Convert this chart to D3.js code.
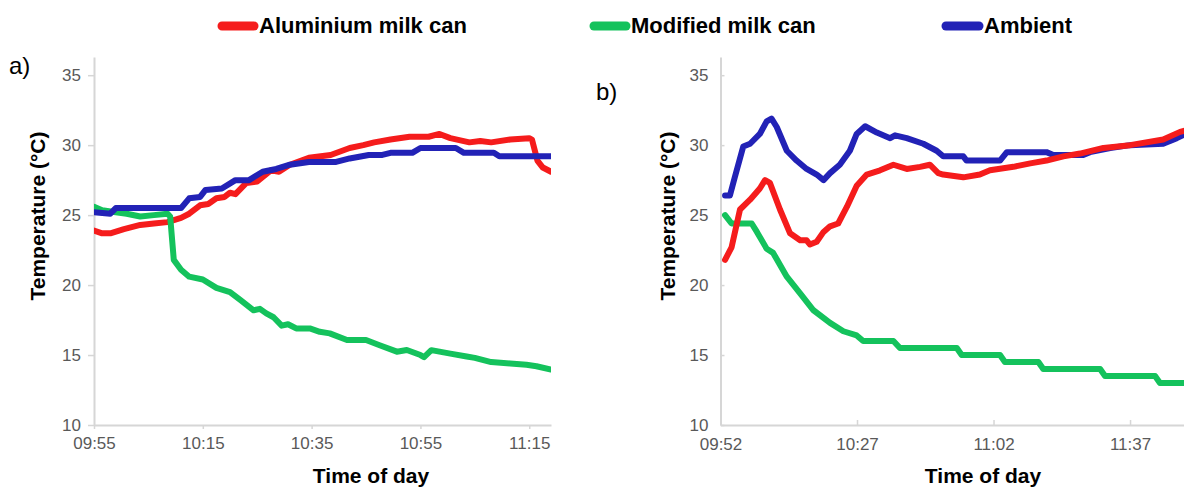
<!DOCTYPE html>
<html>
<head>
<meta charset="utf-8">
<script src="https://cdn.jsdelivr.net/npm/d3@7"></script>
<style>
  html, body { margin: 0; padding: 0; background: #fff; }
  svg { display: block; }
  text { font-family: Arial, "Liberation Sans", sans-serif; }
</style>
</head>
<body>
<svg id="chart" width="1184" height="489"></svg>
<script>
// ---- Series names and colours ----
const seriesNames = ["Aluminium milk can", "Modified milk can", "Ambient"];
const seriesColors = ["#f51c1c", "#14c25c", "#2222b6"];

// ---- Axis ticks ----
const yTicks = [10, 15, 20, 25, 30, 35];
const xTicksA = ["09:55", "10:15", "10:35", "10:55", "11:15"];
const xTicksB = ["09:52", "10:27", "11:02", "11:37"];

// ---- Panel a) readings: [time, °C] ----
const aluminiumA = [
  ["09:55:00", 23.9], ["09:56:30", 23.7], ["09:58:00", 23.7], ["10:00:30", 24.0],
  ["10:03:30", 24.3], ["10:06:00", 24.4], ["10:08:30", 24.5], ["10:11:00", 24.8],
  ["10:12:30", 25.1], ["10:14:30", 25.7], ["10:16:00", 25.8], ["10:17:30", 26.2],
  ["10:19:00", 26.3], ["10:20:00", 26.6], ["10:21:00", 26.5], ["10:23:00", 27.3],
  ["10:25:00", 27.4], ["10:27:30", 28.2], ["10:29:00", 28.1], ["10:31:00", 28.6],
  ["10:34:30", 29.1], ["10:38:30", 29.3], ["10:42:00", 29.8], ["10:44:30", 30.0],
  ["10:46:30", 30.2], ["10:49:30", 30.4], ["10:53:00", 30.6], ["10:56:30", 30.6],
  ["10:58:30", 30.8], ["11:00:30", 30.5], ["11:04:00", 30.2], ["11:06:00", 30.3],
  ["11:08:00", 30.2], ["11:11:30", 30.4], ["11:15:00", 30.5], ["11:15:30", 30.4],
  ["11:16:30", 28.9], ["11:17:30", 28.4], ["11:19:00", 28.1]
];
const modifiedA = [
  ["09:55:00", 25.6], ["09:56:30", 25.35], ["09:59:00", 25.2], ["10:01:00", 25.1],
  ["10:03:30", 24.9], ["10:06:00", 25.0], ["10:08:30", 25.1], ["10:09:00", 24.9],
  ["10:09:40", 21.8], ["10:11:00", 21.1], ["10:12:30", 20.6], ["10:15:00", 20.4],
  ["10:17:30", 19.8], ["10:20:00", 19.5], ["10:22:00", 18.9], ["10:24:20", 18.2],
  ["10:25:30", 18.3], ["10:26:40", 17.98], ["10:28:00", 17.7], ["10:29:30", 17.1],
  ["10:30:40", 17.2], ["10:32:10", 16.9], ["10:34:40", 16.9], ["10:36:30", 16.66],
  ["10:38:20", 16.55], ["10:41:30", 16.07], ["10:45:00", 16.07], ["10:47:30", 15.7],
  ["10:50:40", 15.24], ["10:52:30", 15.36], ["10:55:00", 15.0], ["10:55:40", 14.85],
  ["10:57:00", 15.35], ["11:00:30", 15.1], ["11:03:30", 14.9], ["11:05:00", 14.8],
  ["11:08:00", 14.5], ["11:11:30", 14.4], ["11:14:30", 14.3], ["11:16:20", 14.2],
  ["11:19:00", 13.97]
];
const ambientA = [
  ["09:55:00", 25.2], ["09:58:00", 25.1], ["09:59:00", 25.5], ["10:11:00", 25.5],
  ["10:12:30", 26.2], ["10:14:30", 26.3], ["10:15:30", 26.8], ["10:18:30", 26.9],
  ["10:21:00", 27.5], ["10:23:30", 27.5], ["10:26:00", 28.1], ["10:28:30", 28.3],
  ["10:31:00", 28.6], ["10:34:30", 28.8], ["10:39:30", 28.8], ["10:42:00", 29.05],
  ["10:45:30", 29.3], ["10:48:00", 29.3], ["10:49:30", 29.45], ["10:53:30", 29.45],
  ["10:55:00", 29.8], ["11:01:30", 29.8], ["11:03:00", 29.45], ["11:08:30", 29.45],
  ["11:09:30", 29.2], ["11:19:00", 29.2]
];

// ---- Panel b) readings: [time, °C] ----
const aluminiumB = [
  ["09:53:10", 21.8], ["09:54:50", 22.7], ["09:57:00", 25.4], ["09:59:35", 26.1],
  ["10:02:05", 26.9], ["10:03:25", 27.5], ["10:04:40", 27.3], ["10:07:15", 25.4],
  ["10:09:50", 23.7], ["10:12:25", 23.2], ["10:14:05", 23.2], ["10:14:55", 22.9],
  ["10:16:40", 23.1], ["10:18:25", 23.8], ["10:20:05", 24.2], ["10:22:10", 24.4],
  ["10:24:25", 25.6], ["10:26:55", 27.1], ["10:29:30", 27.9], ["10:32:55", 28.2],
  ["10:36:20", 28.6], ["10:39:45", 28.3], ["10:43:10", 28.45], ["10:45:40", 28.6],
  ["10:47:50", 28.0], ["10:49:05", 27.9], ["10:54:15", 27.7], ["10:58:30", 27.9],
  ["11:01:05", 28.2], ["11:07:05", 28.45], ["11:11:25", 28.7], ["11:15:35", 28.9],
  ["11:19:55", 29.2], ["11:24:10", 29.4], ["11:30:10", 29.8], ["11:37:00", 30.0],
  ["11:45:30", 30.4], ["11:49:50", 30.95], ["11:52:00", 31.1]
];
const modifiedB = [
  ["09:53:10", 25.0], ["09:54:50", 24.4], ["10:00:00", 24.4], ["10:01:20", 23.8],
  ["10:03:50", 22.6], ["10:05:30", 22.3], ["10:09:00", 20.6], ["10:12:25", 19.4],
  ["10:15:50", 18.2], ["10:20:05", 17.3], ["10:23:30", 16.7], ["10:26:55", 16.4],
  ["10:28:35", 16.0], ["10:36:20", 16.0], ["10:38:00", 15.5], ["10:52:35", 15.5],
  ["10:53:50", 15.0], ["11:03:40", 15.0], ["11:04:55", 14.5], ["11:13:30", 14.5],
  ["11:14:45", 14.0], ["11:29:20", 14.0], ["11:30:35", 13.5], ["11:43:25", 13.5],
  ["11:44:40", 13.0], ["11:52:00", 13.0]
];
const ambientB = [
  ["09:53:10", 26.4], ["09:54:25", 26.4], ["09:55:40", 27.7], ["09:57:50", 29.9],
  ["09:59:35", 30.1], ["10:02:05", 30.8], ["10:03:50", 31.7], ["10:05:05", 31.9],
  ["10:06:25", 31.3], ["10:09:00", 29.6], ["10:11:30", 28.9], ["10:14:05", 28.3],
  ["10:16:40", 27.9], ["10:18:25", 27.5], ["10:20:05", 28.0], ["10:22:35", 28.6],
  ["10:25:10", 29.6], ["10:26:55", 30.8], ["10:29:05", 31.35], ["10:32:05", 30.9],
  ["10:35:30", 30.5], ["10:36:45", 30.7], ["10:39:45", 30.5], ["10:44:00", 30.1],
  ["10:47:25", 29.6], ["10:49:05", 29.2], ["10:54:15", 29.2], ["10:55:05", 28.9],
  ["11:03:40", 28.9], ["11:05:25", 29.5], ["11:15:35", 29.5], ["11:17:20", 29.3],
  ["11:25:00", 29.3], ["11:26:45", 29.5], ["11:31:55", 29.8], ["11:37:00", 30.0],
  ["11:45:30", 30.1], ["11:49:00", 30.5], ["11:52:00", 30.9]
];

// ---- Drawing ----
const parseT = d3.timeParse("%H:%M:%S");
const parseHM = d3.timeParse("%H:%M");
const svg = d3.select("#chart");

const axisColor = "#d6d6d6";
const tickText = "#595959";

function panel(cfg) {
  const x = d3.scaleTime().domain(cfg.xDomain.map(parseT)).range(cfg.xRange);
  const y = d3.scaleLinear().domain([10, 36.3]).range([425, 57]);

  const g = svg.append("g");

  // clip so the lines stay inside the plot area
  const clipId = "clip-" + cfg.id;
  svg.append("clipPath").attr("id", clipId)
    .append("rect")
    .attr("x", cfg.xRange[0]).attr("y", 40)
    .attr("width", cfg.xRange[1] - cfg.xRange[0]).attr("height", 390);

  // y axis
  const yAxis = d3.axisLeft(y).tickValues(yTicks).tickSizeInner(cfg.yTick).tickSizeOuter(0)
    .tickPadding(cfg.yPad).tickFormat(d3.format("d"));
  const ya = g.append("g").attr("transform", `translate(${cfg.xRange[0]},0)`).call(yAxis);

  // x axis
  const xAxis = d3.axisBottom(x).tickValues(cfg.xTicks.map(parseHM)).tickSizeInner(cfg.xTick)
    .tickSizeOuter(0).tickPadding(cfg.xPad).tickFormat(d3.timeFormat("%H:%M"));
  const xa = g.append("g").attr("transform", "translate(0,425)").call(xAxis);

  [ya, xa].forEach(a => {
    a.select(".domain").attr("stroke", axisColor).attr("stroke-width", 2);
    a.selectAll(".tick line").attr("stroke", axisColor).attr("stroke-width", 1.5);
    a.selectAll(".tick text").attr("fill", tickText).attr("font-size", 17)
      .attr("font-family", "Arial, 'Liberation Sans', sans-serif");
  });

  // series lines
  const line = d3.line()
    .x(d => x(parseT(d[0])))
    .y(d => y(d[1]))
    .curve(d3.curveLinear);

  const lines = g.append("g").attr("clip-path", `url(#${clipId})`);
  cfg.series.forEach((s, i) => {
    lines.append("path")
      .datum(s)
      .attr("fill", "none")
      .attr("stroke", seriesColors[cfg.order[i]])
      .attr("stroke-width", 6)
      .attr("stroke-linejoin", "round")
      .attr("stroke-linecap", "round")
      .attr("d", line);
  });

  // axis titles
  g.append("text")
    .attr("transform", `translate(${cfg.yTitleX},216) rotate(-90)`)
    .attr("text-anchor", "middle")
    .attr("dominant-baseline", "central")
    .attr("font-size", 21).attr("font-weight", "bold").attr("fill", "#000")
    .text("Temperature (°C)");

  g.append("text")
    .attr("x", cfg.xTitleX).attr("y", 483)
    .attr("text-anchor", "middle")
    .attr("font-size", 21).attr("font-weight", "bold").attr("fill", "#000")
    .text("Time of day");

  // panel letter
  g.append("text")
    .attr("x", cfg.letterX).attr("y", cfg.letterY)
    .attr("font-size", 24).attr("fill", "#000")
    .attr("font-family", "'Open Sans', Arial, sans-serif")
    .text(cfg.letter);
}

panel({
  id: "a", letter: "a)", letterX: 9, letterY: 74,
  xDomain: ["09:55:00", "11:19:00"], xRange: [94, 551],
  xTicks: xTicksA, xTick: 4, xPad: 8, yTick: 6, yPad: 7,
  yTitleX: 37, xTitleX: 371,
  series: [aluminiumA, modifiedA, ambientA], order: [0, 1, 2]
});

panel({
  id: "b", letter: "b)", letterX: 596, letterY: 100,
  xDomain: ["09:52:00", "11:52:30"], xRange: [720.5, 1190.5],
  xTicks: xTicksB, xTick: -5, xPad: 13, yTick: -4, yPad: 12,
  yTitleX: 667, xTitleX: 983,
  series: [ambientB, modifiedB, aluminiumB], order: [2, 1, 0]
});

// ---- Legend ----
const legendPos = [[218, 259], [590, 631], [942, 984]];
const legend = svg.append("g");
seriesNames.forEach((name, i) => {
  const [sx, tx] = legendPos[i];
  legend.append("line")
    .attr("x1", sx + 4).attr("x2", tx - 5)
    .attr("y1", 26).attr("y2", 26)
    .attr("stroke", seriesColors[i]).attr("stroke-width", 9)
    .attr("stroke-linecap", "round");
  legend.append("text")
    .attr("x", tx).attr("y", 33)
    .attr("font-size", 22).attr("font-weight", "bold").attr("fill", "#000")
    .text(name);
});
</script>
</body>
</html>
